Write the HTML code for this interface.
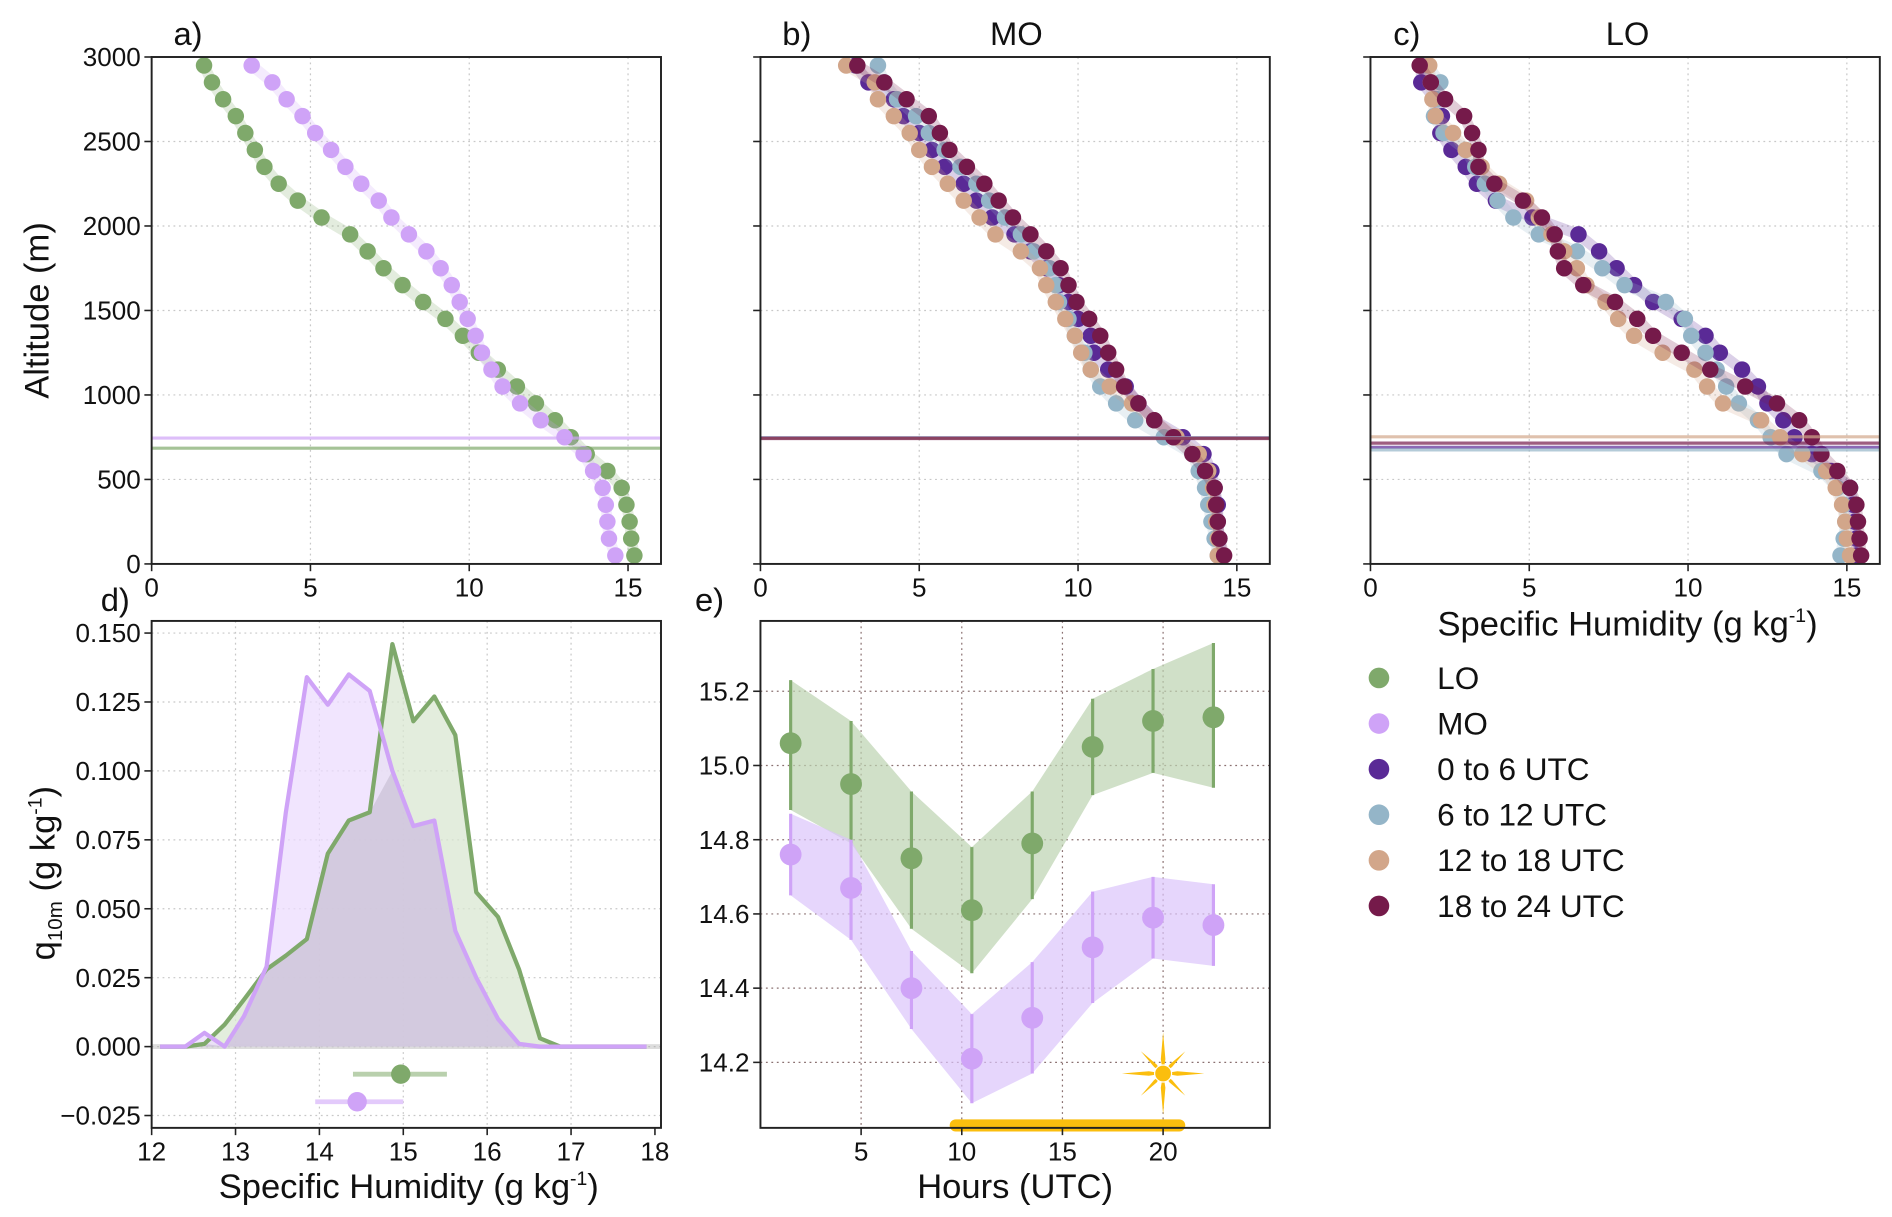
<!DOCTYPE html>
<html><head><meta charset="utf-8">
<style>
html,body{margin:0;padding:0;background:#fff;}
svg{display:block;font-family:"Liberation Sans",sans-serif;}
</style></head>
<body>
<svg id="fig" width="1892" height="1217" viewBox="0 0 1560 1003.5" xmlns="http://www.w3.org/2000/svg"></svg>
<script>
// ---------- data ----------
const altitudes = [50,150,250,350,450,550,650,750,850,950,1050,1150,1250,1350,1450,1550,1650,1750,1850,1950,2050,2150,2250,2350,2450,2550,2650,2750,2850,2950];
const aLO = [15.2,15.1,15.05,14.95,14.8,14.35,13.7,13.2,12.7,12.1,11.5,10.9,10.3,9.8,9.25,8.55,7.9,7.3,6.8,6.25,5.35,4.6,4.0,3.55,3.25,2.95,2.65,2.25,1.9,1.65];
const aMO = [14.6,14.4,14.35,14.3,14.2,13.9,13.6,13.0,12.25,11.6,11.05,10.7,10.4,10.2,9.95,9.7,9.45,9.1,8.65,8.1,7.55,7.15,6.6,6.1,5.65,5.15,4.75,4.25,3.8,3.15];
const aPBLH = [685,745];
const bQ1 = [14.55,14.45,14.4,14.4,14.3,14.2,13.95,13.3,12.4,11.9,11.5,10.95,10.5,10.4,10.0,9.7,9.4,9.0,8.5,8.0,7.3,6.8,6.4,5.8,5.4,5.0,4.5,4.2,3.4,3.0];
const bQ2 = [14.4,14.3,14.2,14.1,14.0,13.8,13.6,12.7,11.8,11.2,10.7,10.4,10.2,9.9,9.7,9.4,9.3,9.1,8.6,8.2,7.7,7.2,6.8,6.3,5.8,5.3,4.9,4.3,3.9,3.7];
const bQ3 = [14.4,14.4,14.35,14.3,14.25,14.1,13.8,13.1,12.4,11.7,11.0,10.4,10.1,9.9,9.6,9.3,9.0,8.8,8.2,7.4,6.9,6.4,5.9,5.4,5.0,4.7,4.2,3.7,3.6,2.7];
const bQ4 = [14.6,14.45,14.4,14.35,14.3,14.0,13.6,13.0,12.4,11.9,11.45,11.2,10.95,10.7,10.35,9.95,9.7,9.45,9.0,8.5,7.95,7.5,7.05,6.5,5.95,5.65,5.3,4.6,3.9,3.05];
const bPBLH = [748,746,744,742];
const cQ1 = [15.3,15.3,15.25,15.2,15.1,14.5,13.9,13.35,13.0,12.5,12.2,11.7,11.0,10.55,9.8,8.9,8.3,7.75,7.2,6.55,5.1,3.95,3.35,3.0,2.55,2.2,2.25,2.05,1.6,1.6];
const cQ2 = [14.8,14.9,14.95,14.9,14.7,14.2,13.1,12.6,12.2,11.6,11.2,10.9,10.55,10.1,9.9,9.3,8.0,7.3,6.5,5.3,4.5,4.0,3.6,3.3,3.0,2.3,2.0,2.1,2.2,1.8];
const cQ3 = [15.1,15.0,14.95,14.85,14.65,14.35,13.6,12.9,12.3,11.1,10.6,10.2,9.2,8.3,7.8,7.4,6.8,6.5,6.1,5.7,5.3,4.9,4.05,3.5,3.0,2.6,2.05,1.95,1.9,1.85];
const cQ4 = [15.45,15.4,15.35,15.3,15.1,14.7,14.2,13.9,13.5,12.8,11.8,10.7,9.8,8.9,8.4,7.7,6.7,6.1,5.9,5.8,5.4,4.8,3.9,3.4,3.4,3.2,2.95,2.35,1.9,1.55];
const cPBLH = [690,675,752,715];
const dX = [12.1,12.4,12.63,12.87,13.1,13.37,13.6,13.85,14.1,14.35,14.6,14.87,15.12,15.37,15.62,15.87,16.13,16.38,16.63,16.87,17.9];
const dLO = [0,0,0.001,0.008,0.017,0.028,0.033,0.039,0.07,0.082,0.085,0.146,0.118,0.127,0.113,0.056,0.047,0.028,0.003,0,0];
const dMO = [0,0,0.005,0,0.011,0.029,0.085,0.134,0.124,0.135,0.129,0.1,0.08,0.082,0.042,0.025,0.01,0.001,0,0,0];
const dSummary = {LO:[14.97,14.4,15.52,-0.01], MO:[14.45,13.95,15.0,-0.02]};
const eHours = [1.5,4.5,7.5,10.5,13.5,16.5,19.5,22.5];
const eLO = [15.06,14.95,14.75,14.61,14.79,15.05,15.12,15.13];
const eLOhi = [15.23,15.12,14.93,14.78,14.93,15.18,15.26,15.33];
const eLOlo = [14.88,14.79,14.56,14.44,14.64,14.92,14.98,14.94];
const eMO = [14.76,14.67,14.40,14.21,14.32,14.51,14.59,14.57];
const eMOhi = [14.87,14.8,14.5,14.33,14.47,14.66,14.7,14.68];
const eMOlo = [14.65,14.53,14.29,14.09,14.17,14.36,14.48,14.46];
const xTicksProfile = [0,5,10,15];
const yTicksProfile = [0,500,1000,1500,2000,2500,3000];
const dXTicks = [12,13,14,15,16,17,18];
const dYTicks = [-0.025,0,0.025,0.05,0.075,0.1,0.125,0.15];
const dYLabels = ["\u22120.025","0.000","0.025","0.050","0.075","0.100","0.125","0.150"];
const eXTicks = [5,10,15,20];
const eYTicks = [14.2,14.4,14.6,14.8,15.0,15.2];
const legendLabels = ["LO","MO","0 to 6 UTC","6 to 12 UTC","12 to 18 UTC","18 to 24 UTC"];

const C = {LO:"#7fa96b",MO:"#cfa3f7",q1:"#5a2a96",q2:"#94b5c8",q3:"#d2a68a",q4:"#751a4a"};
const NS="http://www.w3.org/2000/svg";
const svg=document.getElementById('fig');
const TF=21.5, AF=28.5;
function el(tag,attrs,parent,text){const e=document.createElementNS(NS,tag);for(const k in attrs)e.setAttribute(k,attrs[k]);if(text!==undefined)e.textContent=text;(parent||svg).appendChild(e);return e;}
function lin(d0,d1,r0,r1){return v=>r0+(v-d0)*(r1-r0)/(d1-d0);}

function axesFrame(g,x0,y0,x1,y1){
  const r=el('rect',{x:x0,y:y0,width:x1-x0,height:y1-y0,fill:'none',stroke:'#222','stroke-width':1.6},g);
  
  
}
function grid(g,sx,sy,xt,yt,x0,y0,x1,y1,col){
  xt.forEach(t=>{const l=el('line',{x1:sx(t),x2:sx(t),y1:y0,y2:y1,stroke:col,'stroke-width':1,'stroke-dasharray':'1.5,3'},g);
    });
  yt.forEach(t=>{const l=el('line',{x1:x0,x2:x1,y1:sy(t),y2:sy(t),stroke:col,'stroke-width':1,'stroke-dasharray':'1.5,3'},g);
    });
}
function xTicks(g,sx,ticks,labels,yb,fs){
  ticks.forEach((t,i)=>{el('line',{x1:sx(t),x2:sx(t),y1:yb,y2:yb+6,stroke:'#222','stroke-width':1.3},g);
    const tx=el('text',{x:sx(t),y:yb+27,'font-size':fs,'text-anchor':'middle',fill:'#111'},g,labels?labels[i]:String(t));
    });
}
function yTicks(g,sy,ticks,labels,xl,fs,showLabels){
  ticks.forEach((t,i)=>{el('line',{x1:xl-6,x2:xl,y1:sy(t),y2:sy(t),stroke:'#222','stroke-width':1.3},g);
    if(showLabels){const tx=el('text',{x:xl-9,y:sy(t)+7.5,'font-size':fs,'text-anchor':'end',fill:'#111'},g,labels?labels[i]:String(t));
    }});
}
function profileSeries(g,sx,sy,vals,col,name){
  const pts=vals.map((v,i)=>sx(v)+','+sy(altitudes[i])).join(' ');
  const band=el('polyline',{points:pts,fill:'none',stroke:col,'stroke-width':9,'stroke-opacity':0.22,'stroke-linejoin':'round'},g);
  
  vals.forEach((v,i)=>{const c=el('circle',{cx:sx(v),cy:sy(altitudes[i]),r:6.8,fill:col},g);
    });
}
function label(x,y,txt,fs,name,anchor){const t=el('text',{x:x,y:y,'font-size':fs,'text-anchor':anchor||'start',fill:'#111'},svg,txt);
  return t;}

// ---------- panels a,b,c ----------
function profilePanel(x0,name,series,pblh,showY){
  const g=el('g',{});
  const x1=x0+420,y0=47,y1=465;
  const sx=lin(0,16,x0,x1-1),sy=lin(0,3000,y1,y0);
  grid(g,sx,sy,[5,10,15],[500,1000,1500,2000,2500],x0,y0,x1,y1,'#c8c8c8');
  series.forEach(s=>profileSeries(g,sx,sy,s[0],s[1],s[2]));
  pblh.forEach((h,i)=>{const l=el('line',{x1:x0,x2:x1,y1:sy(h),y2:sy(h),stroke:series[i][1],'stroke-width':2.6,'stroke-opacity':0.7},g);
    });
  axesFrame(g,x0,y0,x1,y1);
  xTicks(g,sx,xTicksProfile,null,y1,TF);
  yTicks(g,sy,yTicksProfile,null,x0,TF,showY);
}
profilePanel(125,'panel-a',[[aLO,C.LO,'lo'],[aMO,C.MO,'mo']],aPBLH,true);
profilePanel(627,'panel-b',[[bQ1,C.q1,'utc-0-6'],[bQ2,C.q2,'utc-6-12'],[bQ3,C.q3,'utc-12-18'],[bQ4,C.q4,'utc-18-24']],bPBLH,false);
profilePanel(1130,'panel-c',[[cQ1,C.q1,'utc-0-6'],[cQ2,C.q2,'utc-6-12'],[cQ3,C.q3,'utc-12-18'],[cQ4,C.q4,'utc-18-24']],cPBLH,false);
label(155,37,'a)',27,'panel-a-label','middle');
label(657,37,'b)',27,'panel-b-label','middle');
label(838,37,'MO',27,'panel-b-title','middle');
label(1160,37,'c)',27,'panel-c-label','middle');
label(1342,37,'LO',27,'panel-c-title','middle');
const ya=label(0,0,'Altitude (m)',AF,'y-axis-title-altitude','middle');ya.setAttribute('transform','translate(40,256) rotate(-90)');
label(1342,524,'',AF,'x-axis-title-c','middle').innerHTML='Specific Humidity (g kg<tspan font-size="16" dy="-11">-1</tspan><tspan dy="11">)</tspan>';

// ---------- panel d ----------
(function(){
  const g=el('g',{});
  const x0=125,x1=545,y0=512,y1=930;
  const sx=lin(12,18,x0,540),sy=lin(0,0.15,863,522);
  grid(g,sx,sy,[13,14,15,16,17],dYTicks,x0,y0,x1,y1,'#c8c8c8');
  const zl=el('line',{x1:x0,x2:x1,y1:sy(0),y2:sy(0),stroke:'#aaa','stroke-width':4,'stroke-opacity':0.4},g);
  
  [[dLO,C.LO,'#d9e7d2','lo'],[dMO,C.MO,'#ecdcfd','mo']].forEach(s=>{
    const pts=dX.map((x,i)=>sx(x)+','+sy(s[0][i]));
    const a=el('polygon',{points:sx(dX[0])+','+sy(0)+' '+pts.join(' ')+' '+sx(dX[dX.length-1])+','+sy(0),fill:s[2],'fill-opacity':0.75},g);
    
  });
  const ov=dX.map((x,i)=>sx(x)+','+sy(Math.min(dLO[i],dMO[i])));
  const o=el('polygon',{points:sx(dX[0])+','+sy(0)+' '+ov.join(' ')+' '+sx(dX[dX.length-1])+','+sy(0),fill:'#b8b0c4','fill-opacity':0.45},g);
  
  [[dLO,C.LO,'lo'],[dMO,C.MO,'mo']].forEach(s=>{
    const l=el('polyline',{points:dX.map((x,i)=>sx(x)+','+sy(s[0][i])).join(' '),fill:'none',stroke:s[1],'stroke-width':3.5,'stroke-linejoin':'round'},g);
    
  });
  [['LO',C.LO,'#b9d0ad'],['MO',C.MO,'#e3cafb']].forEach(s=>{
    const v=dSummary[s[0]];
    const r=el('line',{x1:sx(v[1]),x2:sx(v[2]),y1:sy(v[3]),y2:sy(v[3]),stroke:s[2],'stroke-width':4},g);
    
    const c=el('circle',{cx:sx(v[0]),cy:sy(v[3]),r:8,fill:s[1]},g);
    
  });
  axesFrame(g,x0,y0,x1,y1);
  xTicks(g,sx,dXTicks,null,y1,TF);
  yTicks(g,sy,dYTicks,dYLabels,x0,TF,true);
})();
label(95,504,'d)',27,'panel-d-label','middle');
const yd=label(0,0,'',AF,'y-axis-title-q10m','middle');yd.setAttribute('transform','translate(45,720) rotate(-90)');
yd.innerHTML='q<tspan font-size="17" dy="6">10m</tspan><tspan dy="-6"> (g kg</tspan><tspan font-size="16" dy="-11">-1</tspan><tspan dy="11">)</tspan>';
label(337,988,'',AF,'x-axis-title-d','middle').innerHTML='Specific Humidity (g kg<tspan font-size="16" dy="-11">-1</tspan><tspan dy="11">)</tspan>';

// ---------- panel e ----------
(function(){
  const g=el('g',{});
  const x0=627,x1=1047,y0=512,y1=930;
  const sx=lin(0,25.3,x0,x1),sy=lin(14.2,15.2,876,570);
  grid(g,sx,sy,eXTicks,eYTicks,x0,y0,x1,y1,'#8a7070');
  [[eLO,eLOhi,eLOlo,C.LO,'#bcd3b0','lo'],[eMO,eMOhi,eMOlo,C.MO,'#dcc5fb','mo']].forEach(s=>{
    const up=eHours.map((h,i)=>sx(h)+','+sy(s[1][i]));
    const dn=eHours.map((h,i)=>sx(h)+','+sy(s[2][i])).reverse();
    const b=el('polygon',{points:up.concat(dn).join(' '),fill:s[4],'fill-opacity':0.7},g);
    
    eHours.forEach((h,i)=>{
      const e=el('line',{x1:sx(h),x2:sx(h),y1:sy(s[1][i]),y2:sy(s[2][i]),stroke:s[3],'stroke-width':2.6},g);
      
      const c=el('circle',{cx:sx(h),cy:sy(s[0][i]),r:9,fill:s[3]},g);
      
    });
  });
  const bar=el('line',{x1:sx(9.7),x2:sx(20.8),y1:928,y2:928,stroke:'#fbbe0e','stroke-width':10,'stroke-linecap':'round'},g);
  
  const sunx=sx(20),suny=sy(14.17);
  const rays=[];for(let k=0;k<8;k++){const a=k*Math.PI/4,L=(k%2==0)?34:26,w=0.16;
    rays.push(`M${sunx},${suny} L${sunx+L*Math.cos(a-w)*0.35},${suny+L*Math.sin(a-w)*0.35} L${sunx+L*Math.cos(a)},${suny+L*Math.sin(a)} L${sunx+L*Math.cos(a+w)*0.35},${suny+L*Math.sin(a+w)*0.35} Z`);}
  const sun=el('path',{d:rays.join(' '),fill:'#fbbe0e'},g);
  
  el('circle',{cx:sunx,cy:suny,r:7,fill:'#fbbe0e',stroke:'#fff','stroke-width':1},g);
  axesFrame(g,x0,y0,x1,y1);
  xTicks(g,sx,eXTicks,null,y1,TF);
  yTicks(g,sy,eYTicks,eYTicks.map(v=>v.toFixed(1)),x0,TF,true);
})();
label(585,504,'e)',27,'panel-e-label','middle');
label(837,988,'Hours (UTC)',AF,'x-axis-title-e','middle');

// ---------- legend ----------
(function(){
  const g=el('g',{});
  const cols=[C.LO,C.MO,C.q1,C.q2,C.q3,C.q4];
  legendLabels.forEach((t,i)=>{
    const y=559+i*37.6;
    const c=el('circle',{cx:1137,cy:y,r:8.5,fill:cols[i]},g);
    
    const tx=el('text',{x:1185,y:y+9,'font-size':26,fill:'#111'},g,t);
    
  });
})();
</script>
</body></html>
